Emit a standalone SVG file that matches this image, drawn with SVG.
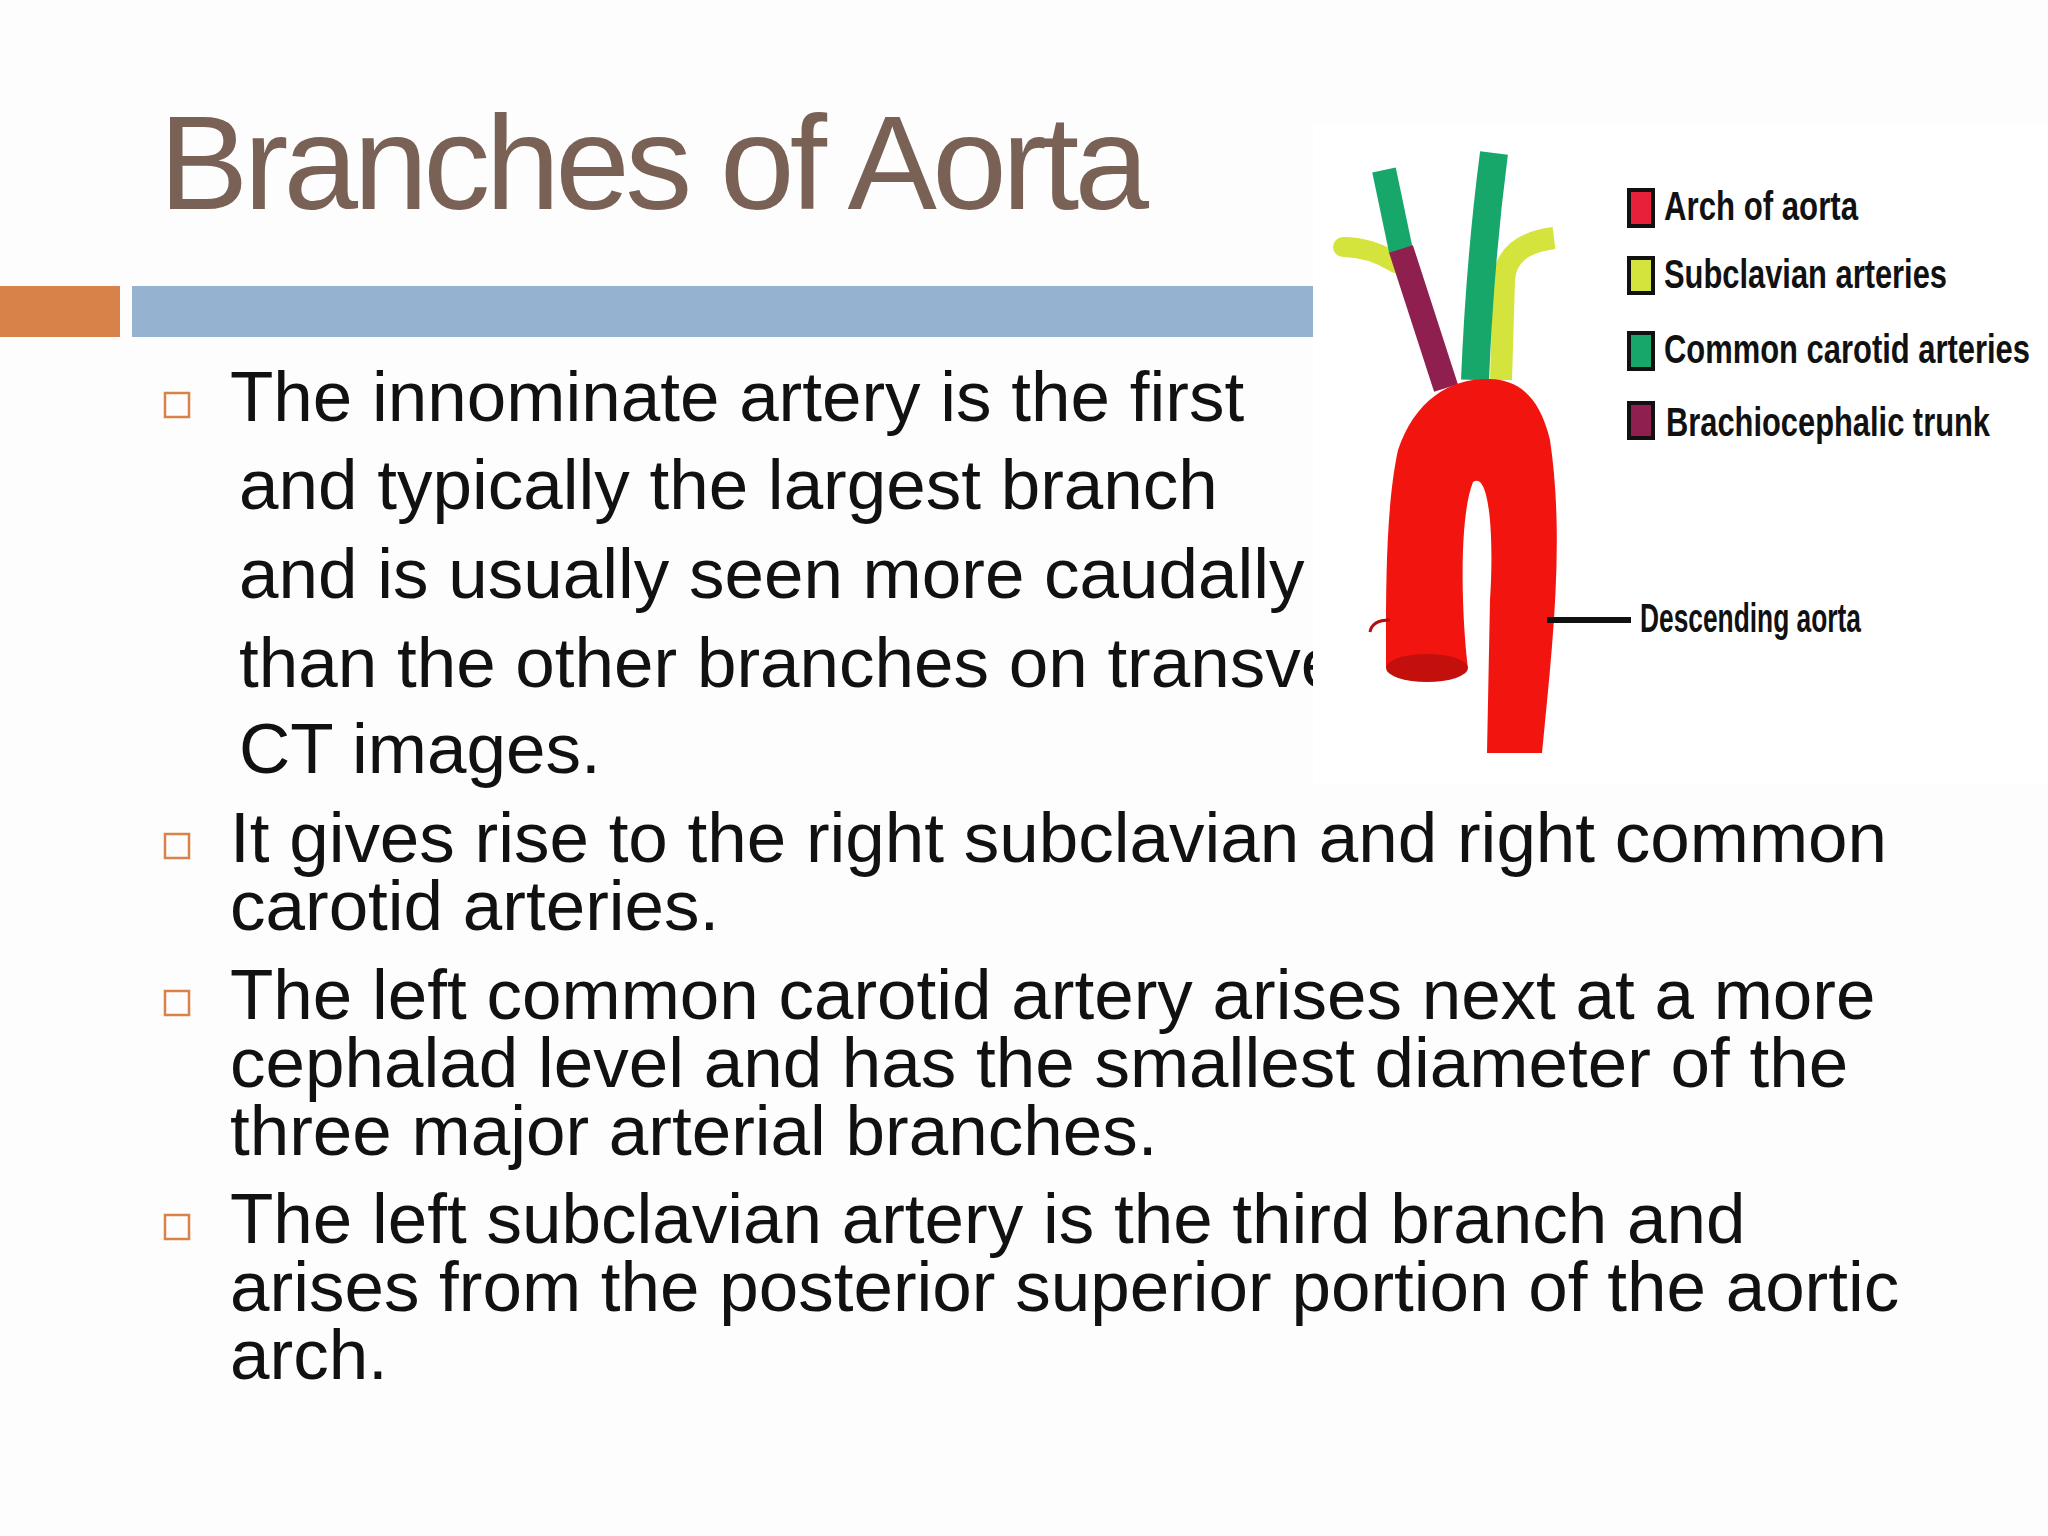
<svg xmlns="http://www.w3.org/2000/svg" width="2048" height="1536" viewBox="0 0 2048 1536">
<style>
.t{font-family:"Liberation Sans",Arial,sans-serif;font-size:71px;fill:#111}
.b{fill:none;stroke:#d8824a;stroke-width:2.5}
.lg{font-family:"Liberation Sans",Arial,sans-serif;font-size:40px;font-weight:bold;fill:#111}
.sq{stroke:#111;stroke-width:4}
</style>
<defs><clipPath id="c1"><rect x="0" y="350" width="1313" height="450"/></clipPath></defs>
<rect width="2048" height="1536" fill="#fdfdfd"/>
<g id="title"><text x="159" y="209" font-family="Liberation Sans,Arial,sans-serif" font-size="134" fill="#7a6156" textLength="990">Branches of Aorta</text></g>
<g id="bars"><rect x="0" y="286" width="120" height="51" fill="#d8824a"/><rect x="132" y="286" width="1181" height="51" fill="#95b3d0"/></g>
<g id="bullet1">
<rect class="b" x="165" y="393" width="24" height="24"/>
<g clip-path="url(#c1)">
<text class="t" x="230" y="421">The innominate artery is the first</text>
<text class="t" x="239" y="509">and typically the largest branch</text>
<text class="t" x="239" y="598">and is usually seen more caudally</text>
<text class="t" x="239" y="687">than the other branches on transverse</text>
<text class="t" x="239" y="773">CT images.</text>
</g></g>
<g id="bullet2"><rect class="b" x="165" y="834" width="24" height="24"/>
<text class="t" x="230" y="862" textLength="1657">It gives rise to the right subclavian and right common</text>
<text class="t" x="230" y="930">carotid arteries.</text></g>
<g id="bullet3"><rect class="b" x="165" y="991" width="24" height="24"/>
<text class="t" x="230" y="1019">The left common carotid artery arises next at a more</text>
<text class="t" x="230" y="1087">cephalad level and has the smallest diameter of the</text>
<text class="t" x="230" y="1155">three major arterial branches.</text></g>
<g id="bullet4"><rect class="b" x="165" y="1215" width="24" height="24"/>
<text class="t" x="230" y="1243">The left subclavian artery is the third branch and</text>
<text class="t" x="230" y="1311">arises from the posterior superior portion of the aortic</text>
<text class="t" x="230" y="1379">arch.</text></g>
<g id="aorta">
<rect x="1313" y="124" width="735" height="660" fill="#fff"/>
<path d="M1396,263 Q1370,247 1343,247" stroke="#d4e43c" stroke-width="20" fill="none" stroke-linecap="round"/>
<path d="M1501,380 L1504,280 Q1506,244 1554,238" stroke="#d4e43c" stroke-width="22" fill="none"/>
<path d="M1475,380 Q1480,260 1494,153" stroke="#17a76b" stroke-width="28" fill="none"/>
<path d="M1401,251 L1384,170" stroke="#17a76b" stroke-width="24" fill="none"/>
<path d="M1446,388 L1401,249" stroke="#8e1f4f" stroke-width="25" fill="none"/>
<path d="M1487,753 L1542,753 C1552,650 1565,540 1550,440 C1540,398 1520,380 1490,379 C1450,378 1415,400 1398,450 C1385,510 1386,600 1386,668 L1468,668 C1462,620 1458,520 1473,482 C1490,470 1494,540 1490,600 Z" fill="#f2150f"/>
<ellipse cx="1427" cy="668" rx="41" ry="14" fill="#c4100c"/>
<path d="M1390,620 Q1372,620 1370,632" stroke="#b01010" stroke-width="3" fill="none"/>
</g>
<g id="legend">
<rect class="sq" x="1629" y="190" width="24" height="36" fill="#e8203a"/>
<text class="lg" x="1664" y="220" textLength="194" lengthAdjust="spacingAndGlyphs">Arch of aorta</text>
<rect class="sq" x="1629" y="258" width="24" height="35" fill="#d4e43c"/>
<text class="lg" x="1664" y="288" textLength="283" lengthAdjust="spacingAndGlyphs">Subclavian arteries</text>
<rect class="sq" x="1629" y="333" width="24" height="36" fill="#17a76b"/>
<text class="lg" x="1664" y="363" textLength="366" lengthAdjust="spacingAndGlyphs">Common carotid arteries</text>
<rect class="sq" x="1629" y="403" width="24" height="35" fill="#8e1f4f"/>
<text class="lg" x="1666" y="436" textLength="324" lengthAdjust="spacingAndGlyphs">Brachiocephalic trunk</text>
</g>
<g id="connectors"><line x1="1547" y1="620" x2="1631" y2="620" stroke="#111" stroke-width="6"/></g>
<g id="desc"><text class="lg" x="1640" y="632" font-size="36" textLength="221" lengthAdjust="spacingAndGlyphs">Descending aorta</text></g>
</svg>
